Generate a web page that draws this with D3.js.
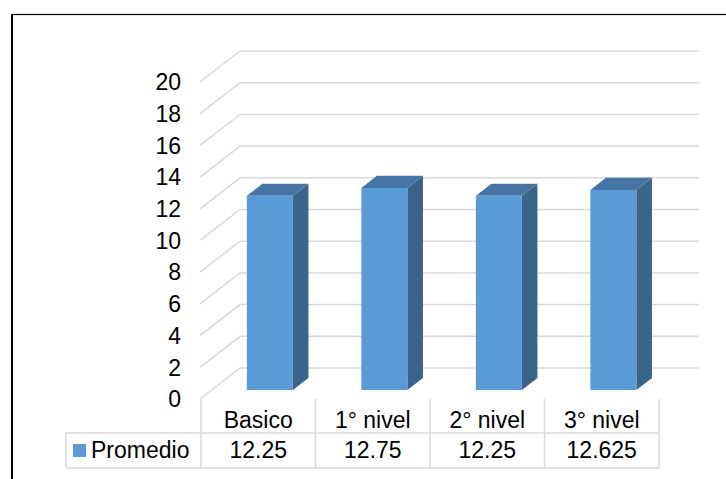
<!DOCTYPE html>
<html>
<head>
<meta charset="utf-8">
<script src="https://cdn.jsdelivr.net/npm/d3@7"></script>
<style>
  body { margin: 0; background: #fff; }
  text { font-family: "Liberation Sans", Arial, sans-serif; fill: #000; }
</style>
</head>
<body>
<div id="chart"></div>
<script>
const categorias = ["Basico", "1° nivel", "2° nivel", "3° nivel"];
const promedio = [12.25, 12.75, 12.25, 12.625];
const etiquetas = ["12.25", "12.75", "12.25", "12.625"];
const serieNombre = "Promedio";
const ticksY = [0, 2, 4, 6, 8, 10, 12, 14, 16, 18, 20];

const width = 726;
const height = 479;
const fontSize = 23;

// profundidad 3D
const depthX = 40;
const depthY = -31;
const z0 = 0.29, z1 = 0.68;

const svg = d3.select("#chart").append("svg")
  .attr("width", width)
  .attr("height", height);

// marco
svg.append("rect")
  .attr("x", 12).attr("y", 14.5)
  .attr("width", 800).attr("height", 600)
  .attr("fill", "none")
  .attr("stroke", "#000")
  .attr("stroke-width", 1.2);
svg.append("line")
  .attr("x1", 12).attr("x2", 12).attr("y1", 14).attr("y2", height)
  .attr("stroke", "#000").attr("stroke-width", 2);

const xScale = d3.scaleBand()
  .domain(categorias)
  .range([201, 659])
  .padding(0);

const yScale = d3.scaleLinear()
  .domain([0, 20])
  .range([399, 399 - 317]);

const proj = (x, v, z) => [x + depthX * z, yScale(v) + depthY * z];

// lineas de cuadricula
const grid = svg.append("g");
grid.selectAll("polyline")
  .data(ticksY).enter()
  .append("polyline")
  .attr("points", d => {
    const a = proj(200, d, 0), b = proj(200, d, 1), c = [699, b[1]];
    return [a, b, c].map(p => p.join(",")).join(" ");
  })
  .attr("fill", "none")
  .attr("stroke", "#d9d9d9")
  .attr("stroke-width", 1.5);

// etiquetas eje Y
svg.append("g")
  .selectAll("text")
  .data(ticksY).enter()
  .append("text")
  .attr("x", 181)
  .attr("y", d => yScale(d))
  .attr("dy", "0.36em")
  .attr("text-anchor", "end")
  .attr("font-size", fontSize)
  .text(d => d);

// barras 3D
const barW = 46;
const bars = svg.append("g")
  .selectAll("g")
  .data(categorias.map((c, i) => ({c, v: promedio[i]}))).enter()
  .append("g");

const bx = d => xScale(d.c) + (xScale.bandwidth() - barW) / 2;
const pts = arr => arr.map(p => p.join(",")).join(" ");

// cara lateral
bars.append("polygon")
  .attr("points", d => pts([
    proj(bx(d) + barW, 0, z0), proj(bx(d) + barW, 0, z1),
    proj(bx(d) + barW, d.v, z1), proj(bx(d) + barW, d.v, z0)
  ]))
  .attr("fill", "#3a6489");

// cara superior
bars.append("polygon")
  .attr("points", d => pts([
    proj(bx(d), d.v, z0), proj(bx(d) + barW, d.v, z0),
    proj(bx(d) + barW, d.v, z1), proj(bx(d), d.v, z1)
  ]))
  .attr("fill", "#4475a4");

// cara frontal
bars.append("rect")
  .attr("x", d => proj(bx(d), d.v, z0)[0])
  .attr("y", d => proj(bx(d), d.v, z0)[1])
  .attr("width", barW)
  .attr("height", d => yScale(0) - yScale(d.v))
  .attr("fill", "#5b9bd5");

// tabla de datos
const tabla = svg.append("g")
  .attr("stroke", "#d9d9d9")
  .attr("stroke-width", 1.5);
const rowTop = 399, rowMid = 433, rowBot = 468, legX = 66;

const bordes = xScale.domain().map(c => xScale(c)).concat([xScale.range()[1]]);
tabla.selectAll("line.v")
  .data(bordes).enter()
  .append("line")
  .attr("x1", d => d).attr("x2", d => d)
  .attr("y1", rowTop).attr("y2", rowBot);
tabla.append("line")
  .attr("x1", legX).attr("x2", xScale.range()[1])
  .attr("y1", rowMid).attr("y2", rowMid);
tabla.append("line")
  .attr("x1", legX).attr("x2", xScale.range()[1])
  .attr("y1", rowBot).attr("y2", rowBot);
tabla.append("line")
  .attr("x1", legX).attr("x2", legX)
  .attr("y1", rowMid).attr("y2", rowBot);

svg.append("g")
  .selectAll("text")
  .data(categorias).enter()
  .append("text")
  .attr("x", d => xScale(d) + xScale.bandwidth() / 2)
  .attr("y", 428)
  .attr("text-anchor", "middle")
  .attr("font-size", fontSize)
  .text(d => d);

svg.append("g")
  .selectAll("text")
  .data(etiquetas).enter()
  .append("text")
  .attr("x", (d, i) => xScale(categorias[i]) + xScale.bandwidth() / 2)
  .attr("y", 458)
  .attr("text-anchor", "middle")
  .attr("font-size", fontSize)
  .text(d => d);

// leyenda
svg.append("rect")
  .attr("x", 73).attr("y", 444)
  .attr("width", 13).attr("height", 13)
  .attr("fill", "#5b9bd5");
svg.append("text")
  .attr("x", 91).attr("y", 458)
  .attr("font-size", fontSize)
  .text(serieNombre);
</script>
</body>
</html>
